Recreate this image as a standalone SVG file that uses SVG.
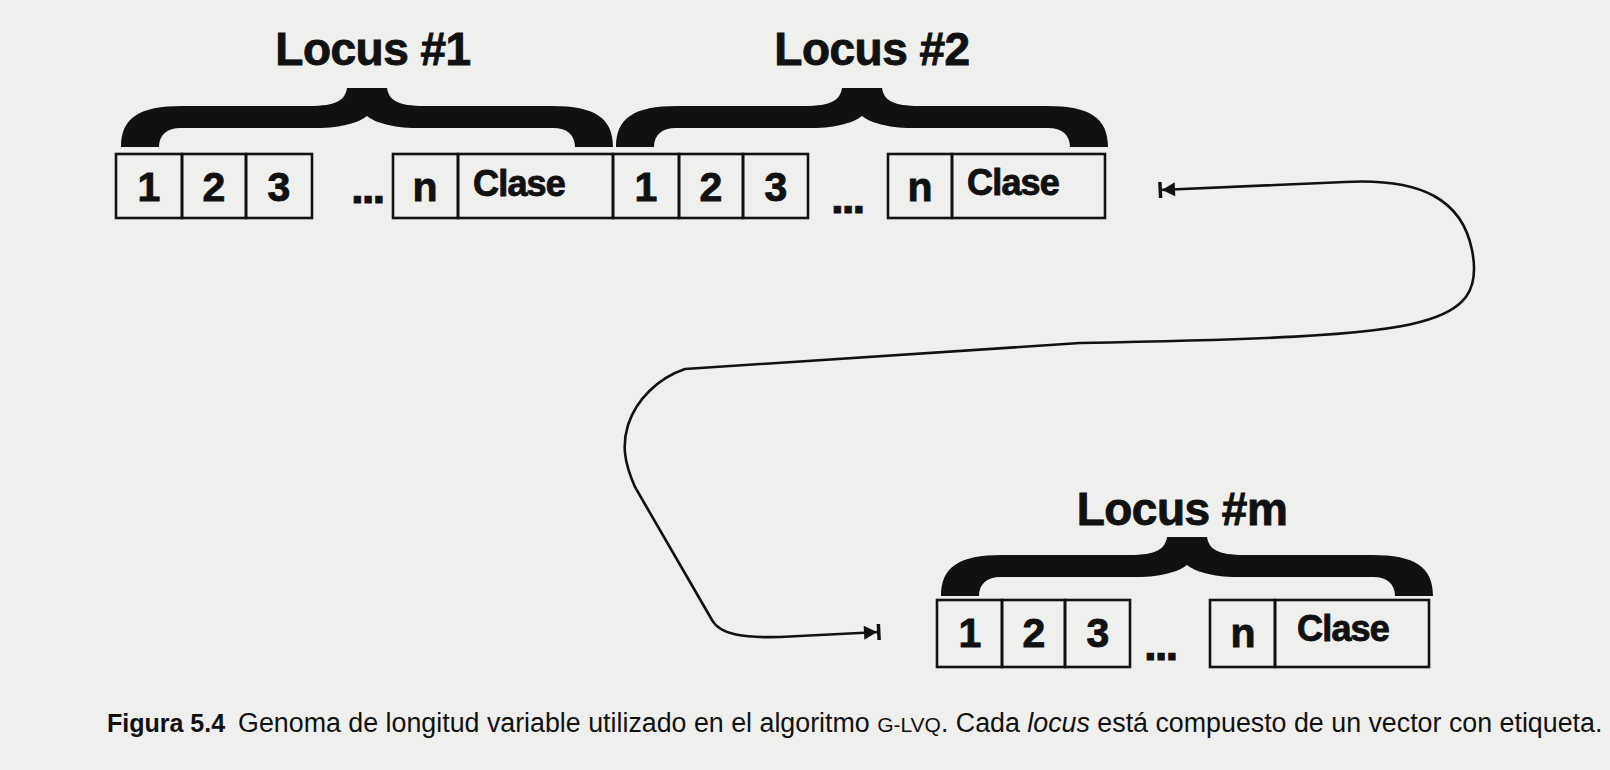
<svg xmlns="http://www.w3.org/2000/svg" xmlns:xlink="http://www.w3.org/1999/xlink" width="1610" height="770" viewBox="0 0 1610 770">
<style>
.cell{fill:none;stroke:#111;stroke-width:2.6}
.lab{font-family:"Liberation Sans",Arial,sans-serif;font-weight:bold;fill:#111;stroke:#111;stroke-width:0.9px}
.title{font-size:46px;text-anchor:middle;letter-spacing:-0.5px}
.dig{font-size:41px;text-anchor:middle}
.cls{font-size:36px;letter-spacing:-0.8px}
.dots{font-size:46px;letter-spacing:-2px}
.brace{fill:#111}
.conn{fill:none;stroke:#111;stroke-width:2.6}
.cap{font-family:"Liberation Sans",Arial,sans-serif;font-size:26.8px;fill:#111}
</style>
<defs>
<path id="brace" class="brace" d="M -246 59 C -246 30 -228 18 -185 18 L -58 18 C -30 18 -22 12 -20 0 L 20 0 C 22 12 30 18 58 18 L 185 18 C 228 18 246 30 246 59 L 208 59 C 208 47 200 40 186 40 L 50 40 C 25 40 7 34 0 28 C -7 34 -25 40 -50 40 L -186 40 C -200 40 -208 47 -208 59 Z"/>
<marker id="barhead" markerUnits="userSpaceOnUse" viewBox="-15 -9 20 18" refX="2" refY="0" markerWidth="20" markerHeight="18" orient="auto-start-reverse">
<path d="M -13 -7 L 0 0 L -13 7 Z M 0 -8 L 3.5 -8 L 3.5 8 L 0 8 Z" fill="#111"/>
</marker>
</defs>
<rect x="0" y="0" width="1610" height="770" fill="#efefed"/>

<g id="locus1">
<text class="lab title" x="373" y="65">Locus #1</text>
<use xlink:href="#brace" href="#brace" transform="translate(367,88)"/>
<rect class="cell" x="116" y="154" width="66" height="64"/>
<rect class="cell" x="182" y="154" width="64" height="64"/>
<rect class="cell" x="246" y="154" width="66" height="64"/>
<rect class="cell" x="393" y="154" width="65" height="64"/>
<rect class="cell" x="458" y="154" width="155" height="64"/>
<text class="lab dig" x="149" y="201">1</text>
<text class="lab dig" x="214" y="201">2</text>
<text class="lab dig" x="279" y="201">3</text>
<text class="lab dots" x="351" y="203">...</text>
<text class="lab dig" x="425" y="201">n</text>
<text class="lab cls" x="473" y="196">Clase</text>
</g>

<g id="locus2">
<text class="lab title" x="872" y="65">Locus #2</text>
<use xlink:href="#brace" href="#brace" transform="translate(862,88)"/>
<rect class="cell" x="613" y="154" width="66" height="64"/>
<rect class="cell" x="679" y="154" width="64" height="64"/>
<rect class="cell" x="743" y="154" width="65" height="64"/>
<rect class="cell" x="888" y="154" width="64" height="64"/>
<rect class="cell" x="952" y="154" width="153" height="64"/>
<text class="lab dig" x="646" y="201">1</text>
<text class="lab dig" x="711" y="201">2</text>
<text class="lab dig" x="776" y="201">3</text>
<text class="lab dots" x="831" y="213">...</text>
<text class="lab dig" x="920" y="201">n</text>
<text class="lab cls" x="967" y="195">Clase</text>
</g>

<g id="locusm">
<text class="lab title" x="1182" y="525">Locus #m</text>
<use xlink:href="#brace" href="#brace" transform="translate(1187,537)"/>
<rect class="cell" x="937" y="600" width="65" height="67"/>
<rect class="cell" x="1002" y="600" width="63" height="67"/>
<rect class="cell" x="1065" y="600" width="65" height="67"/>
<rect class="cell" x="1210" y="600" width="65" height="67"/>
<rect class="cell" x="1275" y="600" width="154" height="67"/>
<text class="lab dig" x="970" y="647">1</text>
<text class="lab dig" x="1034" y="647">2</text>
<text class="lab dig" x="1098" y="647">3</text>
<text class="lab dots" x="1144" y="660">...</text>
<text class="lab dig" x="1243" y="647">n</text>
<text class="lab cls" x="1297" y="641">Clase</text>
</g>

<g id="connectors">
<path class="conn" marker-start="url(#barhead)" marker-end="url(#barhead)" d="M 1160 190 L 1345 182 C 1422 178 1462 200 1472 250 C 1480 290 1466 310 1420 322 C 1370 336 1250 340 1080 343 L 685 369 C 658 378 636 400 628 425 C 622 445 624 462 635 487 L 712 620 C 720 635 745 638 780 637 L 879 632"/>
</g>

<g id="caption">
<text class="cap" x="107" y="732"><tspan font-weight="bold" font-size="25px">Figura 5.4</tspan><tspan dx="13">Genoma de longitud variable utilizado en el algoritmo </tspan><tspan font-size="21px">G-LVQ</tspan><tspan>. Cada </tspan><tspan font-style="italic">locus</tspan><tspan> está compuesto de un vector con etiqueta.</tspan></text>
</g>
</svg>
